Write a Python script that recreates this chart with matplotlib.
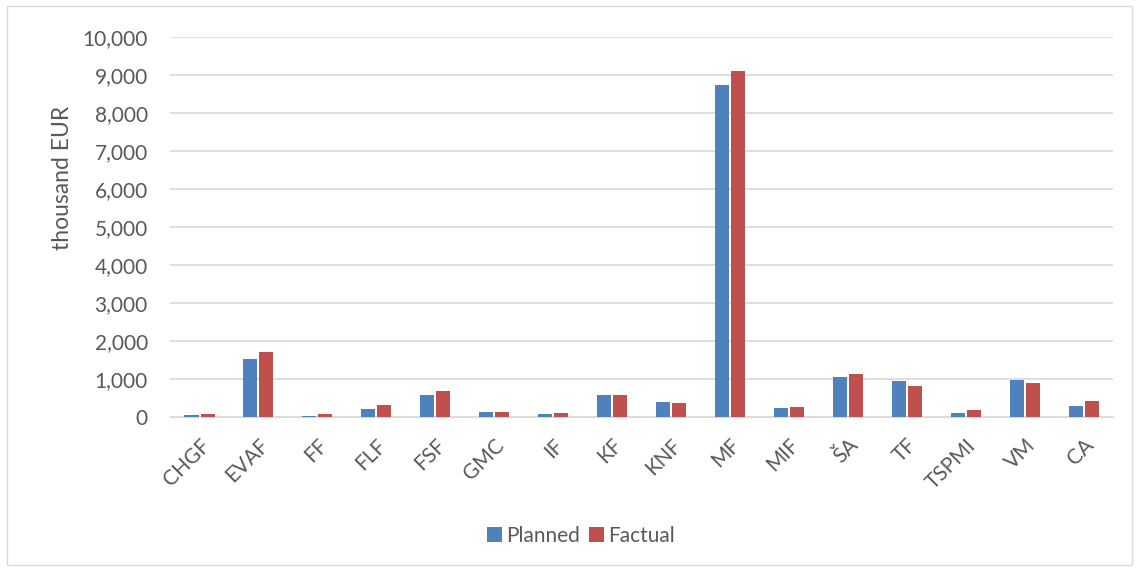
import numpy as np
import matplotlib.pyplot as plt
from matplotlib.patches import Rectangle

categories = ['CHGF', 'EVAF', 'FF', 'FLF', 'FSF', 'GMC', 'IF', 'KF', 'KNF', 'MF',
              'MIF', 'ŠA', 'TF', 'TSPMI', 'VM', 'CA']
planned = [45, 1515, 15, 205, 580, 125, 70, 580, 393, 8740, 230, 1060, 955, 100, 980, 285]
factual = [70, 1700, 70, 313, 687, 125, 95, 580, 366, 9110, 260, 1140, 820, 180, 900, 420]

plt.rcParams['font.family'] = ['Lato', 'DejaVu Sans']
text_col = '#595959'

fig = plt.figure(figsize=(11.39, 5.70), dpi=100)
ax = fig.add_axes([0.1493, 0.2684, 0.828, 0.6667])

x = np.arange(len(categories))
w = 0.238
ax.bar(x - 0.136, planned, w, color='#4f81bd', label='Planned', zorder=3)
ax.bar(x + 0.136, factual, w, color='#c0504d', label='Factual', zorder=3)

ax.set_xlim(-0.5, len(categories) - 0.5)
ax.set_ylim(0, 10000)
ax.set_yticks(range(0, 10001, 1000))
ax.set_yticklabels([f'{v:,}' for v in range(0, 10001, 1000)])
ax.yaxis.grid(True, color='#d9d9d9', linewidth=1.2, zorder=0)
ax.set_xticks(x)
ax.set_xticklabels(categories, rotation=45, ha='right', rotation_mode='anchor')
ax.tick_params(axis='both', length=0, labelsize=15, colors=text_col)
ax.tick_params(axis='y', pad=16)
ax.tick_params(axis='x', pad=13)
for s in ['top', 'right', 'left']:
    ax.spines[s].set_visible(False)
ax.spines['bottom'].set_color('#d9d9d9')
ax.set_ylabel('thousand EUR', fontsize=16.5, color=text_col)
ax.yaxis.set_label_coords(-0.103, 0.63)

fig.legend(loc='center', bbox_to_anchor=(0.51, 0.06), ncol=2, frameon=False,
           fontsize=15, handlelength=0.75, handleheight=0.75, columnspacing=0.4,
           handletextpad=0.2, labelcolor=text_col)

fig.patches.append(Rectangle((0.006, 0.008), 0.988, 0.982, transform=fig.transFigure,
                             fill=False, edgecolor='#d9d9d9', linewidth=1))

fig.savefig('out.png', dpi=100)
